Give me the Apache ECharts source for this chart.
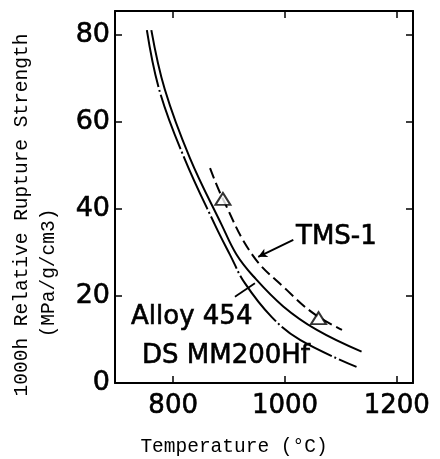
<!DOCTYPE html>
<html>
<head>
<meta charset="utf-8">
<script src="https://cdn.jsdelivr.net/npm/echarts@6/dist/echarts.min.js"></script>
<style>
html,body{margin:0;padding:0;background:#fff;}
#chart{width:440px;height:459px;}
</style>
</head>
<body>
<div id="chart"></div>
<script>
// ---- data ----
var xTicks = [800, 1000, 1200];
var yTicks = [0, 20, 40, 60, 80];

var alloyX = [761, 785, 830, 887, 913, 943, 997, 1057, 1137];
var alloyY = [81.1, 67.5, 51.7, 36.3, 29.6, 24.6, 17.6, 12.2, 7.2];

var dsX = [753, 776, 820, 875, 902, 928, 976, 1027, 1128];
var dsY = [81.1, 67.0, 51.7, 36.3, 29.4, 23.0, 15.2, 9.9, 3.7];

var tmsX = [866, 889, 942, 1003, 1051, 1102];
var tmsY = [49.4, 42.3, 29.4, 21.4, 16.0, 12.2];

var tmsPointX = [889, 1060];
var tmsPointY = [42.3, 14.9];

function pairs(xs, ys){ return xs.map(function(x,i){ return [x, ys[i]]; }); }

var chart = echarts.init(document.getElementById('chart'), null, {renderer:'canvas'});

var axisCommon = {
  type: 'value',
  axisLine: {show: true, onZero: false, lineStyle: {color: '#000', width: 2}},
  axisTick: {show: true, inside: true, length: 7, lineStyle: {color: '#000', width: 1.5}},
  splitLine: {show: false}
};

var labelFont = {color: '#000', fontFamily: 'DejaVu Sans', textBorderColor: '#000', textBorderWidth: 0.6};

var option = {
  animation: false,
  backgroundColor: '#fff',
  grid: {left: 115, top: 11, right: 27, bottom: 76, containLabel: false},
  xAxis: [
    Object.assign({}, axisCommon, {
      position: 'bottom', min: 696, max: 1229,
      axisTick: Object.assign({}, axisCommon.axisTick, {customValues: xTicks}),
      axisLabel: Object.assign({customValues: xTicks, fontSize: 26, margin: 10,
        formatter: function(v){ return String(v); }}, labelFont)
    }),
    Object.assign({}, axisCommon, {
      position: 'top', min: 696, max: 1229,
      axisTick: Object.assign({}, axisCommon.axisTick, {customValues: xTicks}),
      axisLabel: {show: false}
    })
  ],
  yAxis: [
    Object.assign({}, axisCommon, {
      position: 'left', min: 0, max: 85.5,
      axisTick: Object.assign({}, axisCommon.axisTick, {customValues: yTicks}),
      axisLabel: Object.assign({customValues: yTicks, fontSize: 27, margin: 5,
        formatter: function(v){ return String(v); }}, labelFont)
    }),
    Object.assign({}, axisCommon, {
      position: 'right', min: 0, max: 85.5,
      axisTick: Object.assign({}, axisCommon.axisTick, {customValues: yTicks}),
      axisLabel: {show: false}
    })
  ],
  series: [
    {
      name: 'Alloy 454', type: 'line', xAxisIndex: 0, yAxisIndex: 0,
      data: pairs(alloyX, alloyY), smooth: 0.4, showSymbol: false, symbol: 'none',
      lineStyle: {color: '#000', width: 2, type: 'solid'},
      markLine: {
        silent: true, symbol: ['none', 'none'], label: {show: false},
        lineStyle: {color: '#000', width: 1.8, type: 'solid'},
        data: [[{coord: [910.5, 19.8]}, {coord: [946.3, 22.9]}]]
      }
    },
    {
      name: 'DS MM200Hf', type: 'line', xAxisIndex: 0, yAxisIndex: 0,
      data: pairs(dsX, dsY), smooth: 0.4, showSymbol: false, symbol: 'none',
      lineStyle: {color: '#000', width: 2, type: [58, 3, 2, 3]}
    },
    {
      name: 'TMS-1', type: 'line', xAxisIndex: 0, yAxisIndex: 0,
      data: pairs(tmsX, tmsY), smooth: 0.4, showSymbol: false, symbol: 'none',
      lineStyle: {color: '#000', width: 2, type: [11, 5]},
      markLine: {
        silent: true, symbol: ['none', 'arrow'], symbolSize: [7, 9], label: {show: false},
        lineStyle: {color: '#000', width: 1.8, type: 'solid'},
        data: [[{coord: [1014.9, 32.9]}, {coord: [952.2, 29.0]}]]
      }
    },
    {
      name: 'TMS-1 points', type: 'scatter', xAxisIndex: 0, yAxisIndex: 0,
      data: pairs(tmsPointX, tmsPointY), symbol: 'triangle', symbolSize: [15, 12],
      itemStyle: {color: '#fff', borderColor: '#000', borderWidth: 2}, z: 5
    }
  ],
  graphic: [
    {type: 'text', x: 22, y: 215, rotation: Math.PI/2,
      style: {text: '1000h Relative Rupture Strength', fontFamily: 'Liberation Mono', fontSize: 19.5,
        fill: '#000', textAlign: 'center', textVerticalAlign: 'middle', align: 'center', verticalAlign: 'middle'}},
    {type: 'text', x: 49, y: 273, rotation: Math.PI/2,
      style: {text: '(MPa/g/cm3)', fontFamily: 'Liberation Mono', fontSize: 19.5,
        fill: '#000', textAlign: 'center', textVerticalAlign: 'middle', align: 'center', verticalAlign: 'middle'}},
    {type: 'text', x: 234, y: 447,
      style: {text: 'Temperature (\u00B0C)', fontFamily: 'Liberation Mono', fontSize: 19.5,
        fill: '#000', textAlign: 'center', textVerticalAlign: 'middle', align: 'center', verticalAlign: 'middle'}},
    {type: 'text', x: 296, y: 237,
      style: {text: 'TMS-1', fontFamily: 'DejaVu Sans', fontSize: 26, stroke: '#000', lineWidth: 0.6,
        fill: '#000', textAlign: 'left', textVerticalAlign: 'middle', align: 'left', verticalAlign: 'middle'}},
    {type: 'text', x: 131, y: 317,
      style: {text: 'Alloy 454', fontFamily: 'DejaVu Sans', fontSize: 26, stroke: '#000', lineWidth: 0.6,
        fill: '#000', textAlign: 'left', textVerticalAlign: 'middle', align: 'left', verticalAlign: 'middle'}},
    {type: 'text', x: 142, y: 356,
      style: {text: 'DS MM200Hf', fontFamily: 'DejaVu Sans', fontSize: 26, stroke: '#000', lineWidth: 0.6,
        fill: '#000', textAlign: 'left', textVerticalAlign: 'middle', align: 'left', verticalAlign: 'middle'}}
  ]
};
chart.setOption(option);
</script>
</body>
</html>
